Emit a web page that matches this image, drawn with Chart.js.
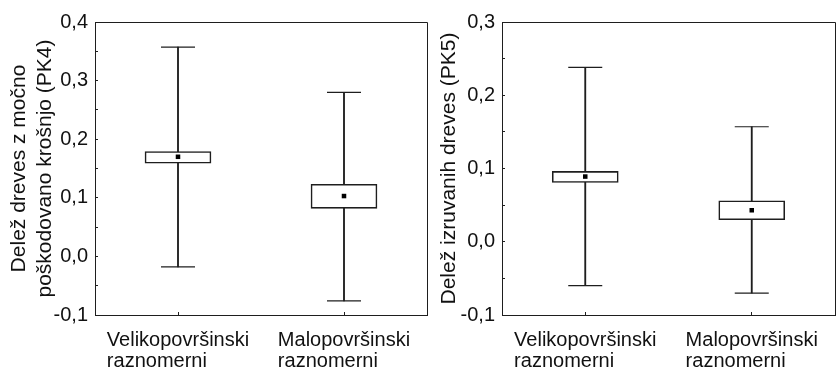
<!DOCTYPE html>
<html><head><meta charset="utf-8">
<script src="https://cdn.jsdelivr.net/npm/chart.js@4/dist/chart.umd.min.js"></script>
<style>
html,body{margin:0;padding:0;background:#fff;}
#wrap{position:relative;width:836px;height:369px;overflow:hidden;background:#fff;}
.panel{position:absolute;top:0;}
</style></head><body>
<div id="wrap">
<div class="panel" style="left:0;width:430px;height:369px"><canvas id="c1" width="430" height="369"></canvas></div>
<div class="panel" style="left:430px;width:406px;height:369px"><canvas id="c2" width="406" height="369"></canvas></div>
</div>
<script>
// ---- data ----
const categories = [['Velikopovršinski', 'raznomerni'], ['Malopovršinski', 'raznomerni']];

const pk4Mean        = [0.170, 0.103];
const pk4BoxLow      = [0.159, 0.082];
const pk4BoxHigh     = [0.179, 0.123];
const pk4WhiskerLow  = [-0.018, -0.076];
const pk4WhiskerHigh = [0.357, 0.280];
const pk4Title = ['Delež dreves z močno', 'poškodovano krošnjo (PK4)'];
const pk4Range = [-0.1, 0.4];

const pk5Mean        = [0.089, 0.043];
const pk5BoxLow      = [0.081, 0.030];
const pk5BoxHigh     = [0.096, 0.056];
const pk5WhiskerLow  = [-0.060, -0.070];
const pk5WhiskerHigh = [0.238, 0.157];
const pk5Title = 'Delež izruvanih dreves (PK5)';
const pk5Range = [-0.1, 0.3];

const tickStep = 0.05;

// ---- rendering ----
const FONT = '"Liberation Sans", Arial, Helvetica, sans-serif';
const INK = '#1e1e1e';
Chart.defaults.font.family = FONT;
Chart.defaults.color = '#111';

const framePlugin = {
  id: 'frameAndLabels',
  afterDraw(chart) {
    const {ctx, chartArea: a} = chart;
    ctx.save();
    ctx.strokeStyle = INK;
    ctx.lineWidth = 1;
    ctx.beginPath();
    ctx.moveTo(Math.round(a.left), Math.round(a.top) + 0.5);
    ctx.lineTo(Math.round(a.right) + 0.5, Math.round(a.top) + 0.5);
    ctx.lineTo(Math.round(a.right) + 0.5, Math.round(a.bottom) + 1);
    ctx.stroke();
    // category labels (left-aligned block, centred on the category)
    const xs = chart.scales.x;
    ctx.font = '20px ' + FONT;
    ctx.fillStyle = '#111';
    ctx.textBaseline = 'alphabetic';
    ctx.textAlign = 'left';
    categories.forEach((lines, i) => {
      const cx = xs.getPixelForValue(i);
      const w = Math.max(...lines.map(l => ctx.measureText(l).width));
      const left = cx - w / 2;
      lines.forEach((l, j) => ctx.fillText(l, left, xs.top + 31 + j * 21));
    });
    ctx.restore();
  }
};

function fmt(v) {
  const r = Math.round(v * 100);
  if (r % 10 !== 0) return '';
  const t = (r / 100).toFixed(1).replace('.', ',');
  return t === '-0,0' ? '0,0' : t;
}

function makeChart(id, d) {
  return new Chart(document.getElementById(id), {
    type: 'bar',
    data: {
      labels: categories,
      datasets: [
        { type: 'line', data: d.mean, showLine: false, pointStyle: 'rect', pointRadius: 3.2,
          pointBackgroundColor: '#000', pointBorderWidth: 0, order: 0 },
        { type: 'line', data: d.wHigh, showLine: false, pointStyle: 'line', pointRadius: 17,
          pointBorderColor: INK, pointBorderWidth: 1.2, order: 1 },
        { type: 'line', data: d.wLow, showLine: false, pointStyle: 'line', pointRadius: 17,
          pointBorderColor: INK, pointBorderWidth: 1.2, order: 1 },
        { type: 'bar', data: d.boxLow.map((l, i) => [l, d.boxHigh[i]]), backgroundColor: '#fff',
          borderColor: INK, borderWidth: 1.6, borderSkipped: false, barThickness: 66, grouped: false, order: 2 },
        { type: 'bar', data: d.wLow.map((l, i) => [l, d.wHigh[i]]), backgroundColor: INK,
          borderWidth: 0, barThickness: 1.2, grouped: false, order: 3 }
      ]
    },
    options: {
      responsive: false,
      animation: false,
      events: [],
      layout: { autoPadding: false, padding: { left: 0, right: d.padRight, top: 17, bottom: 0 } },
      plugins: { legend: { display: false }, tooltip: { enabled: false } },
      scales: {
        x: {
          type: 'category', offset: true,
          grid: { drawOnChartArea: false, offset: false, tickLength: -3, color: INK, lineWidth: 1 },
          border: { display: true, color: INK, width: 1 },
          ticks: { display: false },
          afterFit: s => { s.height = 54; }
        },
        y: {
          type: 'linear', min: d.range[0], max: d.range[1],
          grid: { drawOnChartArea: false, tickLength: -3, color: INK, lineWidth: 1 },
          border: { display: true, color: INK, width: 1 },
          ticks: { stepSize: tickStep, padding: 10, font: { size: 20 }, color: '#111', callback: fmt, autoSkip: false },
          title: { display: true, text: d.title, font: { size: 21 }, color: '#111', padding: { top: 7, bottom: 0 } },
          afterFit: s => { s.width = d.yWidth; }
        }
      }
    },
    plugins: [framePlugin]
  });
}

makeChart('c1', { mean: pk4Mean, boxLow: pk4BoxLow, boxHigh: pk4BoxHigh, wLow: pk4WhiskerLow,
  wHigh: pk4WhiskerHigh, title: pk4Title, range: pk4Range, yWidth: 95, padRight: 3 });
makeChart('c2', { mean: pk5Mean, boxLow: pk5BoxLow, boxHigh: pk5BoxHigh, wLow: pk5WhiskerLow,
  wHigh: pk5WhiskerHigh, title: pk5Title, range: pk5Range, yWidth: 72, padRight: 1 });
</script>
</body></html>
